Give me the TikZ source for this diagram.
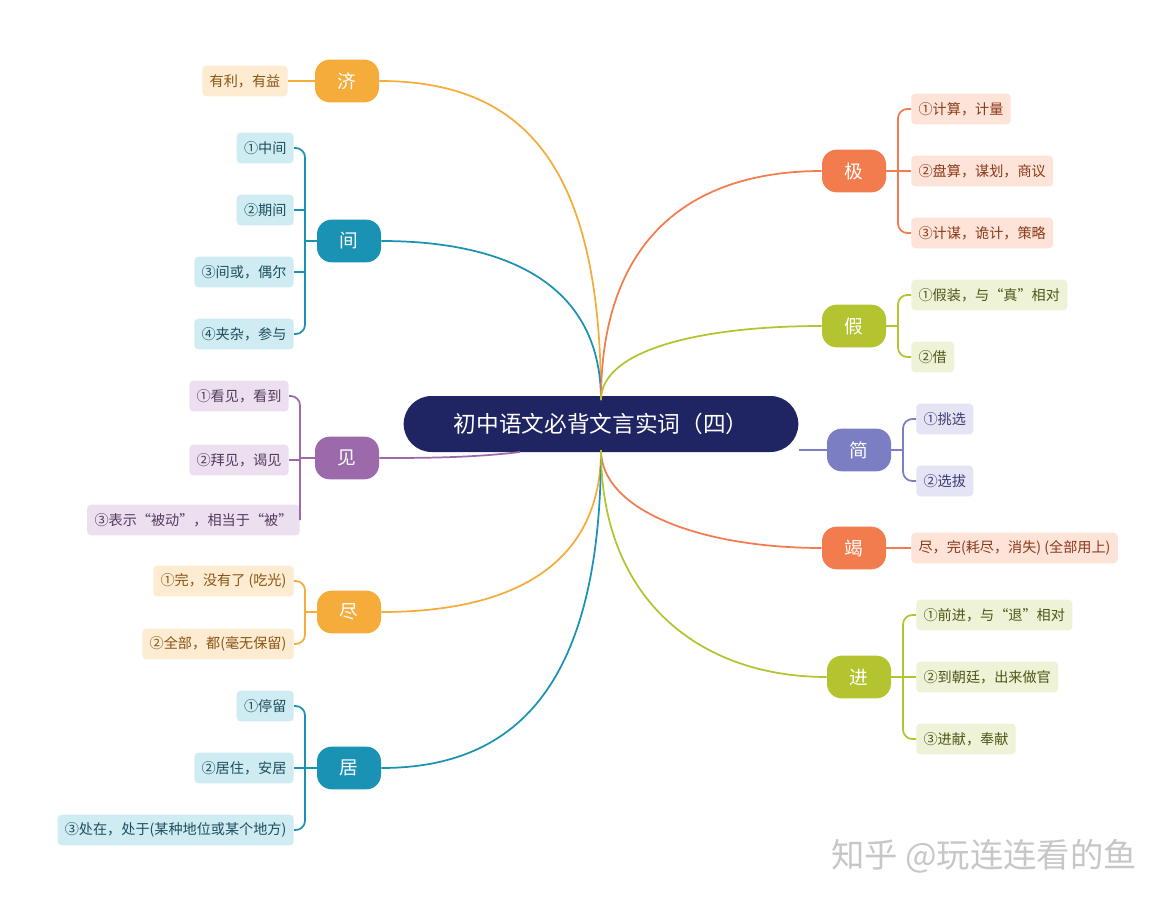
\documentclass[tikz,border=0pt]{standalone}
\usepackage{fontspec}
\setmainfont{Noto Sans CJK SC}
\newfontfamily\cjk{Noto Sans CJK SC}
\begin{document}
\begin{tikzpicture}[x=0.75pt,y=-0.75pt,
  hub/.style={rounded corners=11pt,minimum width=48pt,minimum height=32pt,text=white,font=\fontsize{14}{16}\selectfont\cjk,inner sep=0pt},
  leaf/.style={rounded corners=3pt,inner xsep=5.5pt,inner ysep=0pt,minimum height=23pt,font=\fontsize{10.6}{12}\selectfont\cjk},
  br/.style={line width=1.3pt,rounded corners=7pt},
  con/.style={line width=1.3pt}]
\definecolor{cen}{HTML}{1F2462}
\definecolor{org}{HTML}{F6AC3A}\definecolor{orgL}{HTML}{FDEBD2}\definecolor{orgT}{HTML}{8A5512}
\definecolor{tea}{HTML}{1A92B4}\definecolor{teaL}{HTML}{D0ECF3}\definecolor{teaT}{HTML}{1D4E5E}
\definecolor{pur}{HTML}{9C6AAB}\definecolor{purL}{HTML}{ECDFEF}\definecolor{purT}{HTML}{543A5E}
\definecolor{cor}{HTML}{F27C4E}\definecolor{corL}{HTML}{FDE3D8}\definecolor{corT}{HTML}{8B3A1A}
\definecolor{grn}{HTML}{B4C330}\definecolor{grnL}{HTML}{EEF2D6}\definecolor{grnT}{HTML}{4F5618}
\definecolor{blu}{HTML}{7B7EC3}\definecolor{bluL}{HTML}{E4E4F4}\definecolor{bluT}{HTML}{3A3D73}
\useasboundingbox[fill=white] (0,0) rectangle (1175,906);

\node[fill=cen,rounded corners=21pt,minimum width=296pt,minimum height=42pt,text=white,font=\fontsize{17}{20}\selectfont\cjk] (c) at (601,424) {初中语文必背文言实词（四）};

% hubs
\node[hub,fill=org] (ji) at (347,81) {济};
\node[hub,fill=tea] (jian) at (349,241) {间};
\node[hub,fill=pur] (jn) at (347,458) {见};
\node[hub,fill=org] (jin) at (349,612) {尽};
\node[hub,fill=tea] (ju) at (349,768) {居};
\node[hub,fill=cor] (jj) at (854,171) {极};
\node[hub,fill=grn] (jia) at (854,326) {假};
\node[hub,fill=blu] (jan) at (859,450) {简};
\node[hub,fill=cor] (jie) at (854,548) {竭};
\node[hub,fill=grn] (jinn) at (859,677) {进};

% connectors
\draw[con,org] (601,400) .. controls (601,160) and (520,81) .. (ji.east);
\draw[con,tea] (601,400) .. controls (601,280) and (500,241) .. (jian.east);
\draw[con,pur] (520,452) .. controls (470,458) and (420,458) .. (jn.east);
\draw[con,org] (601,450) .. controls (601,560) and (520,612) .. (jin.east);
\draw[con,tea] (601,450) .. controls (601,680) and (520,768) .. (ju.east);
\draw[con,cor] (601,400) .. controls (601,230) and (700,171) .. (jj.west);
\draw[con,grn] (601,400) .. controls (601,350) and (700,326) .. (jia.west);
\draw[con,blu] (c.east |- jan.west) -- (jan.west);
\draw[con,cor] (601,450) .. controls (601,510) and (700,548) .. (jie.west);
\draw[con,grn] (601,450) .. controls (601,600) and (700,677) .. (jinn.west);

% leaves left
\node[leaf,fill=orgL,text=orgT] (a1) at (245,81) {有利，有益};
\draw[con,org] (a1.east) -- (ji.west);

\node[leaf,fill=teaL,text=teaT,anchor=east] (b1) at (294,148) {①中间};
\node[leaf,fill=teaL,text=teaT,anchor=east] (b2) at (294,210) {②期间};
\node[leaf,fill=teaL,text=teaT,anchor=east] (b3) at (294,272) {③间或，偶尔};
\node[leaf,fill=teaL,text=teaT,anchor=east] (b4) at (294,334) {④夹杂，参与};
\draw[br,tea] (b1.east) -- (305,148) -- (305,334) -- (b4.east);
\draw[con,tea] (b2.east) -- (305,210) (b3.east) -- (305,272) (jian.west) -- (305,241);

\node[leaf,fill=purL,text=purT,anchor=east] (c1) at (289,396) {①看见，看到};
\node[leaf,fill=purL,text=purT,anchor=east] (c2) at (289,460) {②拜见，谒见};
\node[leaf,fill=purL,text=purT,anchor=east] (c3) at (300,520) {③表示“被动”，相当于“被”};
\draw[br,pur] (c1.east) -- (300,396) -- (300,520) -- (c3.east);
\draw[con,pur] (c2.east) -- (300,460) (jn.west) -- (300,458);

\node[leaf,fill=orgL,text=orgT,anchor=east] (d1) at (294,581) {①完，没有了 (吃光)};
\node[leaf,fill=orgL,text=orgT,anchor=east] (d2) at (294,644) {②全部，都(毫无保留)};
\draw[br,org] (d1.east) -- (305,581) -- (305,644) -- (d2.east);
\draw[con,org] (jin.west) -- (305,612);

\node[leaf,fill=teaL,text=teaT,anchor=east] (e1) at (294,706) {①停留};
\node[leaf,fill=teaL,text=teaT,anchor=east] (e2) at (294,768) {②居住，安居};
\node[leaf,fill=teaL,text=teaT,anchor=east] (e3) at (294,830) {③处在，处于(某种地位或某个地方)};
\draw[br,tea] (e1.east) -- (305,706) -- (305,830) -- (e3.east);
\draw[con,tea] (e2.east) -- (305,768) (ju.west) -- (305,768);

% leaves right
\node[leaf,fill=corL,text=corT,anchor=west] (f1) at (911,109) {①计算，计量};
\node[leaf,fill=corL,text=corT,anchor=west] (f2) at (911,171) {②盘算，谋划，商议};
\node[leaf,fill=corL,text=corT,anchor=west] (f3) at (911,233) {③计谋，诡计，策略};
\draw[br,cor] (f1.west) -- (898,109) -- (898,233) -- (f3.west);
\draw[con,cor] (jj.east) -- (f2.west);

\node[leaf,fill=grnL,text=grnT,anchor=west] (g1) at (911,295) {①假装，与“真”相对};
\node[leaf,fill=grnL,text=grnT,anchor=west] (g2) at (911,357) {②借};
\draw[br,grn] (g1.west) -- (898,295) -- (898,357) -- (g2.west);
\draw[con,grn] (jia.east) -- (898,326);

\node[leaf,fill=bluL,text=bluT,anchor=west] (h1) at (916,419) {①挑选};
\node[leaf,fill=bluL,text=bluT,anchor=west] (h2) at (916,481) {②选拔};
\draw[br,blu] (h1.west) -- (903,419) -- (903,481) -- (h2.west);
\draw[con,blu] (jan.east) -- (903,450);

\node[leaf,fill=corL,text=corT,anchor=west] (i1) at (911,548) {尽，完(耗尽，消失) (全部用上)};
\draw[con,cor] (jie.east) -- (i1.west);

\node[leaf,fill=grnL,text=grnT,anchor=west] (k1) at (916,615) {①前进，与“退”相对};
\node[leaf,fill=grnL,text=grnT,anchor=west] (k2) at (916,677) {②到朝廷，出来做官};
\node[leaf,fill=grnL,text=grnT,anchor=west] (k3) at (916,739) {③进献，奉献};
\draw[br,grn] (k1.west) -- (903,615) -- (903,739) -- (k3.west);
\draw[con,grn] (jinn.east) -- (k2.west);

\node[text=black!22,font=\fontsize{25}{28}\selectfont\cjk] (wm) at (984,856) {知乎 @玩连连看的鱼};
\end{tikzpicture}
\end{document}
